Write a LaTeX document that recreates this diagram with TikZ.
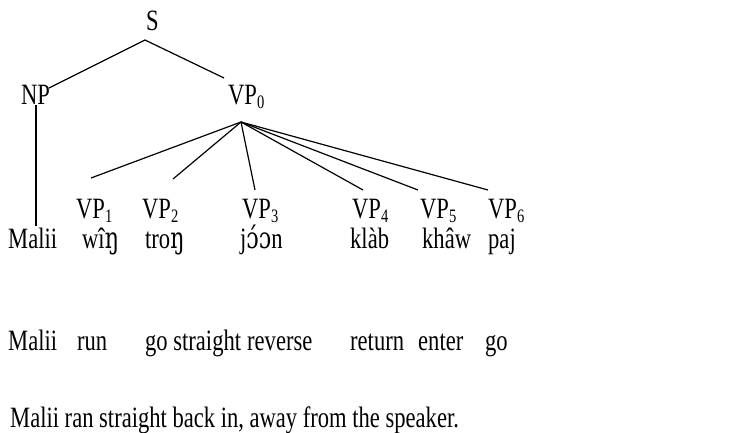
\documentclass[tikz,border=0pt]{standalone}
\usepackage{fontspec}
\setmainfont{Liberation Serif}[FakeStretch=0.765]
\newfontfamily\ipafont{DejaVu Serif}[FakeStretch=0.75]
\newcommand{\sbx}[1]{\raisebox{-4.5pt}{\fontsize{19}{19}\selectfont #1}}
\tikzset{
  lbl/.style={anchor=base west, inner sep=0pt, font=\fontsize{29.5}{34}\selectfont},
  branch/.style={line width=1.2pt}
}
\begin{document}
\begin{tikzpicture}[x=1pt,y=-1pt]
\useasboundingbox (0,0) rectangle (734,432);
% tree labels
\node[lbl] (S) at (146,30) {S};
\node[lbl] (NP) at (21,104) {NP};
\node[lbl] (VP0) at (228,104) {VP\sbx{0}};
\node[lbl] (VP1) at (76,218) {VP\sbx{1}};
\node[lbl] (VP2) at (142,218) {VP\sbx{2}};
\node[lbl] (VP3) at (242,218) {VP\sbx{3}};
\node[lbl] (VP4) at (352,218) {VP\sbx{4}};
\node[lbl] (VP5) at (420,218) {VP\sbx{5}};
\node[lbl] (VP6) at (488,218) {VP\sbx{6}};
% words
\node[lbl] (w0) at (8,248) {Malii};
\node[lbl] (w1) at (82,248) {wî{\ipafont ŋ}};
\node[lbl] (w2) at (145,248) {tro{\ipafont ŋ}};
\node[lbl] (w3) at (240,248) {j{\ipafont ɔ́ɔ}n};
\node[lbl] (w4) at (350,248) {klàb};
\node[lbl] (w5) at (422,248) {khâw};
\node[lbl] (w6) at (488,248) {paj};
% glosses
\node[lbl] (g0) at (8,350) {Malii};
\node[lbl] (g1) at (77,350) {run};
\node[lbl] (g2) at (145,350) {go straight};
\node[lbl] (g3) at (247,350) {reverse};
\node[lbl] (g4) at (350,350) {return};
\node[lbl] (g5) at (418,350) {enter};
\node[lbl] (g6) at (485,350) {go};
% translation
\node[lbl] (tr) at (10,427) {Malii ran straight back in, away from the speaker.};
% branch points
\coordinate (Sb) at (145,40);
\coordinate (NPt) at (49,88);
\coordinate (VP0t) at (224,78);
\coordinate (NPb) at (36,105);
\coordinate (NPe) at (36,226);
\coordinate (VP0b) at (241,122);
\coordinate (e1) at (91,178);
\coordinate (e2) at (173,179);
\coordinate (e3) at (255,190);
\coordinate (e4) at (363,190);
\coordinate (e5) at (418,190);
\coordinate (e6) at (488,190);
\draw[branch] (NPt) -- (Sb) -- (VP0t);
\draw[branch] (NPb) -- (NPe);
\foreach \e in {e1,e2,e3,e4,e5,e6} \draw[branch] (VP0b) -- (\e);
\end{tikzpicture}
\end{document}
